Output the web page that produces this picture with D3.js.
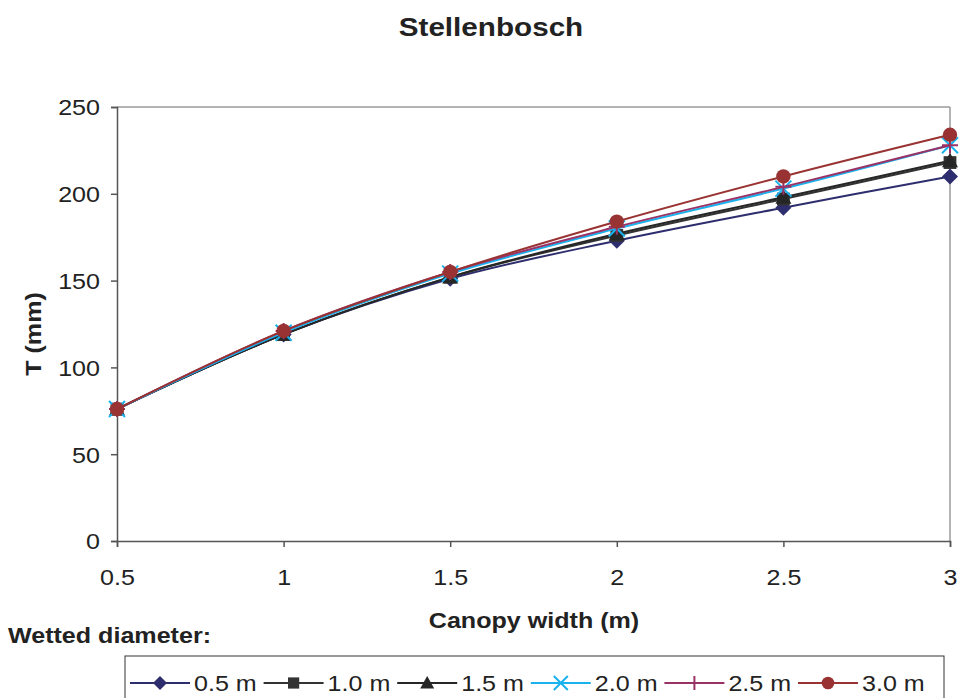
<!DOCTYPE html>
<html>
<head>
<meta charset="UTF-8">
<title>Stellenbosch</title>
<script src="https://d3js.org/d3.v7.min.js"></script>
<style>
  body { margin: 0; background: #fff; }
  svg { font-family: "Liberation Sans", Arial, sans-serif; }
  .tick text { font-size: 22px; fill: #222; }
  .axis path, .axis line { stroke: #555; stroke-width: 1.5; }
  .lbl { font-weight: bold; font-size: 22px; fill: #222; }
</style>
</head>
<body>
<svg width="960" height="698"></svg>
<script>
// canopy widths (m)
const widths = [0.5, 1, 1.5, 2, 2.5, 3];
const yTicks = [0, 50, 100, 150, 200, 250];
// one series per wetted diameter
const seriesNames = ["0.5 m", "1.0 m", "1.5 m", "2.0 m", "2.5 m", "3.0 m"];
const d05 = [76, 119, 151, 173, 192, 210];
const d10 = [76, 119, 152, 176, 197, 218];
const d15 = [76, 119, 152, 177, 198, 219];
const d20 = [76, 120, 154, 180, 203, 228];
const d25 = [76, 121, 155, 181, 204, 228];
const d30 = [76, 121, 155, 184, 210, 234];

const allValues = [d05, d10, d15, d20, d25, d30];
const colors = ["#2e2e6e", "#333333", "#262626", "#1ab2ee", "#993366", "#993333"];
const symbols = ["diamond", "square", "triangle", "x", "plus", "circle"];

const svg = d3.select("svg");
const plotL = 117, plotR = 950, plotT = 107, plotB = 541;

const x = d3.scaleLinear().domain([0.5, 3]).range([plotL, plotR]);
const y = d3.scaleLinear().domain([0, 250]).range([plotB, plotT]);

// plot frame: top and right edges in light grey
svg.append("line").attr("x1", plotL).attr("x2", plotR).attr("y1", plotT).attr("y2", plotT)
  .attr("stroke", "#9a9a9a").attr("stroke-width", 1.5);
svg.append("line").attr("x1", plotR).attr("x2", plotR).attr("y1", plotT).attr("y2", plotB)
  .attr("stroke", "#9a9a9a").attr("stroke-width", 1.5);

svg.append("g").attr("class", "axis")
  .attr("transform", `translate(0,${plotB})`)
  .call(d3.axisBottom(x).tickValues(widths).tickSize(6).tickPadding(22).tickFormat(d3.format("")))
  .call(g => g.selectAll("line").attr("stroke", "#777"));

svg.append("g").attr("class", "axis")
  .attr("transform", `translate(${plotL},0)`)
  .call(d3.axisLeft(y).tickValues(yTicks).tickSize(6).tickPadding(11))
  .call(g => g.selectAll("line").attr("stroke", "#777"))
  .call(g => g.selectAll("text").attr("dy", "0.36em"));

// titles
svg.append("text").attr("x", 491).attr("y", 36).attr("text-anchor", "middle")
  .attr("font-size", 26).attr("font-weight", "bold").attr("fill", "#222").text("Stellenbosch");
svg.append("text").attr("class", "lbl").attr("x", 534).attr("y", 628)
  .attr("text-anchor", "middle").text("Canopy width (m)");
svg.append("text").attr("class", "lbl")
  .attr("transform", `translate(41,334) rotate(-90)`)
  .attr("text-anchor", "middle").text("T (mm)");
svg.append("text").attr("class", "lbl").attr("x", 8).attr("y", 643).text("Wetted diameter:");

const line = d3.line()
  .x((d, i) => x(widths[i]))
  .y(d => y(d))
  .curve(d3.curveCatmullRom.alpha(0));

function marker(g, kind, color, size) {
  const s = size;
  if (kind === "diamond") {
    g.append("path").attr("d", `M0,${-s}L${s},0L0,${s}L${-s},0Z`).attr("fill", color);
  } else if (kind === "square") {
    g.append("rect").attr("x", -s * 0.8).attr("y", -s * 0.8).attr("width", s * 1.6).attr("height", s * 1.6).attr("fill", color);
  } else if (kind === "triangle") {
    g.append("path").attr("d", `M0,${-s}L${s},${s * 0.8}L${-s},${s * 0.8}Z`).attr("fill", color);
  } else if (kind === "x") {
    g.append("path").attr("d", `M${-s},${-s}L${s},${s}M${-s},${s}L${s},${-s}`)
      .attr("stroke", color).attr("stroke-width", 2);
  } else if (kind === "plus") {
    g.append("path").attr("d", `M${-s},0L${s},0M0,${-s}L0,${s}`)
      .attr("stroke", color).attr("stroke-width", 2);
  } else {
    g.append("circle").attr("r", s * 0.9).attr("fill", color);
  }
}

allValues.forEach((vals, k) => {
  svg.append("path").datum(vals)
    .attr("fill", "none").attr("stroke", colors[k]).attr("stroke-width", 2)
    .attr("d", line);
  vals.forEach((v, i) => {
    const g = svg.append("g").attr("transform", `translate(${x(widths[i])},${y(v)})`);
    marker(g, symbols[k], colors[k], 8);
  });
});

// legend
svg.append("rect").attr("x", 125).attr("y", 656).attr("width", 819).attr("height", 50)
  .attr("fill", "none").attr("stroke", "#333").attr("stroke-width", 1);
seriesNames.forEach((name, k) => {
  const lx = 130 + k * 133.6, ly = 683;
  svg.append("line").attr("x1", lx).attr("x2", lx + 60).attr("y1", ly).attr("y2", ly)
    .attr("stroke", colors[k]).attr("stroke-width", 2);
  const g = svg.append("g").attr("transform", `translate(${lx + 30},${ly})`);
  marker(g, symbols[k], colors[k], 7);
  svg.append("text").attr("x", lx + 64).attr("y", ly).attr("dy", "0.36em")
    .attr("font-size", 22).attr("fill", "#222").text(name);
});

// the original text is set a little wider than Arial
svg.selectAll("text").each(function () {
  const w = this.getComputedTextLength();
  d3.select(this).attr("textLength", w * 1.14).attr("lengthAdjust", "spacingAndGlyphs");
});
</script>
</body>
</html>
